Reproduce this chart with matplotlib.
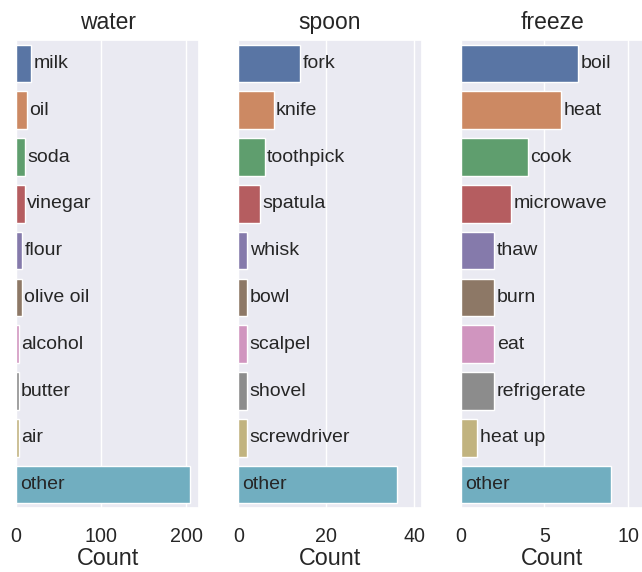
import matplotlib
matplotlib.use("Agg")
import matplotlib.pyplot as plt
import seaborn as sns

sns.set_theme(style="darkgrid", palette="deep")
plt.rcParams['font.family'] = ['Liberation Sans', 'DejaVu Sans']

titles = ["water", "spoon", "freeze"]

water_words = ["milk", "oil", "soda", "vinegar", "flour", "olive oil",
               "alcohol", "butter", "air", "other"]
water_counts = [18, 13, 11, 10, 7, 7, 3, 3, 3, 205]

spoon_words = ["fork", "knife", "toothpick", "spatula", "whisk", "bowl",
               "scalpel", "shovel", "screwdriver", "other"]
spoon_counts = [14, 8, 6, 5, 2, 2, 2, 2, 2, 36]

freeze_words = ["boil", "heat", "cook", "microwave", "thaw", "burn",
                "eat", "refrigerate", "heat up", "other"]
freeze_counts = [7, 6, 4, 3, 2, 2, 2, 2, 1, 9]

xlims = [215.5, 41.7, 10.95]
xticks = [[0, 100, 200], [0, 20, 40], [0, 5, 10]]

fig, axes = plt.subplots(1, 3, figsize=(6.42, 5.72), dpi=100)
fig.subplots_adjust(left=16/642, right=644/642, bottom=1-508/572,
                    top=1-40/572, wspace=39/183)

data = [(water_words, water_counts), (spoon_words, spoon_counts),
        (freeze_words, freeze_counts)]

for ax, title, (words, counts), xl, xt in zip(axes, titles, data, xlims, xticks):
    sns.barplot(x=counts, y=words, hue=words, palette="deep", legend=False,
                edgecolor="white", linewidth=1.0, ax=ax)
    ax.set_xlim(0, xl)
    ax.set_xticks(xt)
    ax.set_yticks([])
    ax.set_ylabel("")
    ax.set_xlabel("Count", fontsize=16.8, labelpad=1)
    ax.set_title(title, fontsize=16.5, pad=8)
    ax.tick_params(axis="x", labelsize=14.1, pad=7.5)
    # word labels next to the bars, "other" sits inside its bar
    px = xl / 183.0
    for i, (w, c) in enumerate(zip(words, counts)):
        if w == "other":
            ax.text(4 * px, i, w, va="center", ha="left", fontsize=14, color="#262626")
        else:
            ax.text(c + 2.5 * px, i, w, va="center", ha="left", fontsize=14, color="#262626")

fig.savefig("out.png", dpi=100)
